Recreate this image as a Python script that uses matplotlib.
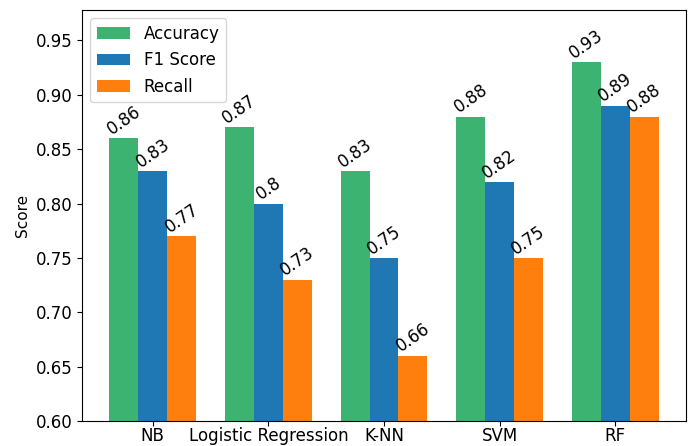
import numpy as np
import matplotlib
matplotlib.use('Agg')
import matplotlib.pyplot as plt

models = ['NB', 'Logistic Regression', 'K-NN', 'SVM', 'RF']
accuracy = [0.86, 0.87, 0.83, 0.88, 0.93]
f1_score = [0.83, 0.8, 0.75, 0.82, 0.89]
recall = [0.77, 0.73, 0.66, 0.75, 0.88]

plt.rcParams['font.size'] = 12

fig = plt.figure(figsize=(6.89, 4.46), dpi=100)
ax = fig.add_axes([82/689, 25/446, 604/689, 411/446])

x = np.arange(len(models))
width = 0.25
series = [('Accuracy', accuracy, '#3cb371'),
          ('F1 Score', f1_score, '#1f77b4'),
          ('Recall', recall, '#ff7f0e')]

for i, (name, vals, col) in enumerate(series):
    pos = x + (i - 1) * width
    ax.bar(pos, vals, width, label=name, color=col)
    for p, v in zip(pos, vals):
        ax.text(p, v, str(v), rotation=35, ha='center', va='bottom', fontsize=12)

ax.set_xticks(x)
ax.set_xticklabels(models)
ax.tick_params(axis='x', pad=1)
ax.set_ylabel('Score', fontsize=11)
ax.set_ylim(0.6, 0.978)
ax.legend(loc='upper left')

fig.savefig('out.png', dpi=100)
